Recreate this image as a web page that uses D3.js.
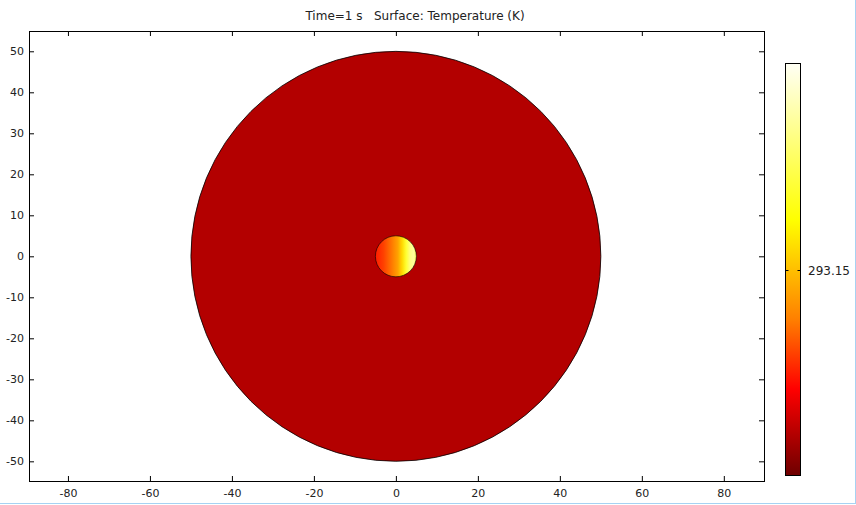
<!DOCTYPE html>
<html>
<head>
<meta charset="utf-8">
<script src="https://cdn.jsdelivr.net/npm/d3@7"></script>
<style>
  body { margin: 0; background: #fff; }
  svg text { font-family: "DejaVu Sans", sans-serif; fill: #222; }
</style>
</head>
<body>
<div id="chart"></div>
<script>
// Tick labels
const xTicks = [-80, -60, -40, -20, 0, 20, 40, 60, 80];
const yTicks = [-50, -40, -30, -20, -10, 0, 10, 20, 30, 40, 50];
const colorbarTicks = [293.15];

// Temperature range of the colour legend (K)
const tMin = 273.15;
const tMax = 313.15;

// Colour map (fraction of range -> colour)
const cmapFractions = [0, 0.21, 0.38, 0.62, 1];
const cmapColors = ['#6e0000', '#ff0000', '#ff8000', '#ffff00', '#fffff5'];

// Domains: outer disk and inner heated disk
const diskNames = ['outer', 'inner'];
const diskRadius = [50, 5];
const outerTemp = 277.15;

// Temperature across the inner disk, left to right (x in mm)
const innerX = [-5, -3, -1, 0.5, 1.5, 2.5, 3.5, 4.3, 5];
const innerTemp = [283, 285, 288, 291, 295, 301, 306, 307.5, 304];

const width = 856, height = 505;
const margin = { top: 31, right: 92, bottom: 24, left: 29 };

const svg = d3.select('#chart').append('svg')
  .attr('width', width)
  .attr('height', height);

const xScale = d3.scaleLinear().domain([-89.5, 89.8]).range([margin.left, width - margin.right]);
const yScale = d3.scaleLinear().domain([-54.8, 54.95]).range([height - margin.bottom, margin.top]);

const tempColor = d3.scaleLinear()
  .domain(cmapFractions.map((f) => tMin + f * (tMax - tMin)))
  .range(cmapColors);

const defs = svg.append('defs');
defs.append('clipPath').attr('id', 'plotClip')
  .append('rect')
  .attr('x', margin.left).attr('y', margin.top)
  .attr('width', width - margin.right - margin.left)
  .attr('height', height - margin.bottom - margin.top);

// Gradient for the inner disk
const innerGrad = defs.append('linearGradient')
  .attr('id', 'innerGrad')
  .attr('gradientUnits', 'userSpaceOnUse')
  .attr('x1', xScale(innerX[0])).attr('x2', xScale(innerX[innerX.length - 1]))
  .attr('y1', 0).attr('y2', 0);
innerGrad.selectAll('stop')
  .data(innerX.map((x, i) => ({ x, t: innerTemp[i] })))
  .enter().append('stop')
  .attr('offset', (d) => (d.x - innerX[0]) / (innerX[innerX.length - 1] - innerX[0]))
  .attr('stop-color', (d) => tempColor(d.t));

// Plot content
const plot = svg.append('g').attr('clip-path', 'url(#plotClip)');
plot.selectAll('circle.disk')
  .data(diskNames.map((name, i) => ({ name, r: diskRadius[i] })))
  .enter().append('circle')
  .attr('class', 'disk')
  .attr('cx', xScale(0))
  .attr('cy', yScale(0))
  .attr('r', (d) => xScale(d.r) - xScale(0))
  .attr('fill', (d) => (d.name === 'outer' ? tempColor(outerTemp) : 'url(#innerGrad)'))
  .attr('stroke', '#000')
  .attr('stroke-width', (d) => (d.name === 'outer' ? 0.8 : 0.6));

// Axes (ticks pointing inward on all four sides)
const plain = (d) => String(d);
svg.append('g')
  .attr('transform', `translate(0,${height - margin.bottom})`)
  .call(d3.axisBottom(xScale).tickValues(xTicks).tickSize(-5).tickPadding(8).tickFormat(plain))
  .call((g) => g.select('.domain').remove());
svg.append('g')
  .attr('transform', `translate(0,${margin.top})`)
  .call(d3.axisTop(xScale).tickValues(xTicks).tickSize(-5).tickFormat(''))
  .call((g) => g.select('.domain').remove());
svg.append('g')
  .attr('transform', `translate(${margin.left},0)`)
  .call(d3.axisLeft(yScale).tickValues(yTicks).tickSize(-5).tickPadding(5).tickFormat(plain))
  .call((g) => g.select('.domain').remove());
svg.append('g')
  .attr('transform', `translate(${width - margin.right},0)`)
  .call(d3.axisRight(yScale).tickValues(yTicks).tickSize(-5).tickFormat(''))
  .call((g) => g.select('.domain').remove());

svg.selectAll('.tick text')
  .attr('font-size', 11)
  .attr('font-family', '"DejaVu Sans", sans-serif')
  .attr('fill', '#222');
svg.selectAll('.tick line').attr('stroke', '#000');

// Plot frame
svg.append('rect')
  .attr('x', margin.left + 0.5).attr('y', margin.top + 0.5)
  .attr('width', width - margin.right - margin.left)
  .attr('height', height - margin.bottom - margin.top)
  .attr('fill', 'none')
  .attr('stroke', '#000');

// Title
svg.append('text')
  .attr('x', 415).attr('y', 20)
  .attr('text-anchor', 'middle')
  .attr('font-size', 12)
  .attr('xml:space', 'preserve')
  .text('Time=1 s   Surface: Temperature (K)');

// Colour bar
const cb = { x: 785.5, w: 15, top: 63.5, bottom: 475.5 };
const cbScale = d3.scaleLinear().domain([tMin, tMax]).range([cb.bottom, cb.top]);
const cbGrad = defs.append('linearGradient')
  .attr('id', 'cbGrad')
  .attr('x1', 0).attr('x2', 0).attr('y1', 1).attr('y2', 0);
cbGrad.selectAll('stop')
  .data(cmapFractions.map((f, i) => ({ f, c: cmapColors[i] })))
  .enter().append('stop')
  .attr('offset', (d) => d.f)
  .attr('stop-color', (d) => d.c);
svg.append('rect')
  .attr('x', cb.x).attr('y', cb.top)
  .attr('width', cb.w).attr('height', cb.bottom - cb.top)
  .attr('fill', 'url(#cbGrad)')
  .attr('stroke', '#000');

const cbTick = svg.selectAll('g.cbtick')
  .data(colorbarTicks)
  .enter().append('g')
  .attr('class', 'cbtick')
  .attr('transform', (d) => `translate(0,${Math.round(cbScale(d)) + 0.5})`);
cbTick.append('line')
  .attr('x1', cb.x).attr('x2', cb.x + 3)
  .attr('stroke', '#000');
cbTick.append('line')
  .attr('x1', cb.x + cb.w - 3).attr('x2', cb.x + cb.w)
  .attr('stroke', '#000');
cbTick.append('text')
  .attr('x', cb.x + cb.w + 7.5)
  .attr('dy', '0.35em')
  .attr('font-size', 12)
  .text((d) => d3.format('.2f')(d));

// Window edge lines (right and bottom)
svg.append('line')
  .attr('x1', 855.5).attr('x2', 855.5).attr('y1', 0).attr('y2', 504)
  .attr('stroke', '#a6d2f2');
svg.append('line')
  .attr('x1', 0).attr('x2', 856).attr('y1', 503.5).attr('y2', 503.5)
  .attr('stroke', '#a6d2f2');
</script>
</body>
</html>
